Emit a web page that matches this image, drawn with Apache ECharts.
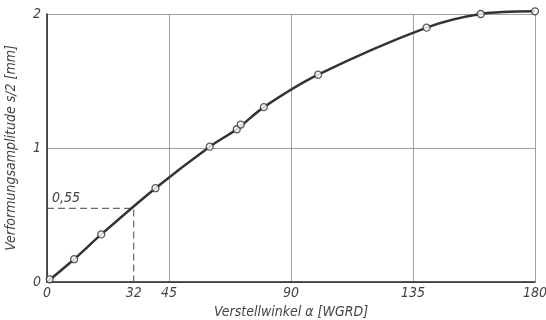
<!DOCTYPE html>
<html>
<head>
<meta charset="utf-8">
<script src="https://cdn.jsdelivr.net/npm/echarts@6/dist/echarts.min.js"></script>
<style>html,body{margin:0;padding:0;background:#fff}#c{width:546px;height:320px}</style>
</head>
<body>
<div id="c"></div>
<script>
// Measured points: Verstellwinkel (WGRD) and Verformungsamplitude s/2 (mm)
var angles = [1, 10, 20, 40, 60, 70, 71.5, 80, 100, 140, 160, 180];
var amplitudes = [0.02, 0.17, 0.355, 0.70, 1.01, 1.14, 1.175, 1.305, 1.547, 1.898, 2.0, 2.02];
// Curve support (starts at origin)
var curveAngles = [0, 10, 20, 40, 60, 70, 80, 100, 140, 160, 180];
var curveValues = [0, 0.17, 0.355, 0.70, 1.01, 1.14, 1.305, 1.547, 1.898, 2.0, 2.02];
// Reference reading
var refAngle = 32;
var refValue = 0.55;
var refLabel = '0,55';
// Tick labels
var xTickLabels = [0, 32, 45, 90, 135, 180];
var yTickLabels = [0, 1, 2];
var xName = 'Verstellwinkel α [WGRD]';
var yName = 'Verformungsamplitude s/2 [mm]';

var FONT = "'Liberation Sans Narrow', 'DejaVu Sans Condensed', 'DejaVu Sans', sans-serif";
var txt = {fontFamily: FONT, fontStyle: 'italic', fontSize: 14, color: '#444'};

var pts = angles.map(function (a, i) { return [a, amplitudes[i]]; });
var curve = curveAngles.map(function (a, i) { return [a, curveValues[i]]; });
var refLine = [[0, refValue], [refAngle, refValue], [refAngle, 0]];

var chart = echarts.init(document.getElementById('c'), null, {renderer: 'canvas'});
chart.setOption({
  animation: false,
  backgroundColor: '#fff',
  grid: {left: 47, right: 11, top: 14, bottom: 38, containLabel: false, outerBoundsMode: 'none'},
  xAxis: {
    type: 'value', min: 0, max: 180, interval: 45,
    name: xName, nameLocation: 'middle', nameGap: 20,
    nameTextStyle: Object.assign({}, txt, {fontSize: 14}),
    axisLine: {show: true, onZero: false, lineStyle: {color: '#222', width: 1.5}},
    axisTick: {show: false},
    axisLabel: Object.assign({}, txt, {margin: 4, customValues: xTickLabels}),
    splitLine: {show: true, lineStyle: {color: '#888', width: 0.8}}
  },
  yAxis: {
    type: 'value', min: 0, max: 2, interval: 1,
    name: yName, nameLocation: 'middle', nameGap: 29,
    nameTextStyle: Object.assign({}, txt, {fontSize: 14}),
    axisLine: {show: true, onZero: false, lineStyle: {color: '#222', width: 1.5}},
    axisTick: {show: false},
    axisLabel: Object.assign({}, txt, {margin: 6, customValues: yTickLabels}),
    splitLine: {show: true, lineStyle: {color: '#888', width: 0.8}}
  },
  series: [
    {
      type: 'line', data: refLine, symbol: 'none', silent: true,
      lineStyle: {color: '#444', width: 1, type: [7, 4]},
      label: {show: false},
      markPoint: {
        symbol: 'circle', symbolSize: 0,
        label: Object.assign({}, txt, {show: true, formatter: refLabel, position: [5, -17], align: 'left'}),
        data: [{coord: [0, refValue]}]
      }
    },
    {
      type: 'line', data: curve, smooth: 0.3, symbol: 'none', clip: false,
      lineStyle: {color: '#333', width: 2.5}
    },
    {
      type: 'scatter', data: pts, symbol: 'circle', symbolSize: 7, clip: false,
      itemStyle: {color: '#fff', borderColor: '#333', borderWidth: 1.3},
      z: 5
    }
  ]
});
</script>
</body>
</html>
